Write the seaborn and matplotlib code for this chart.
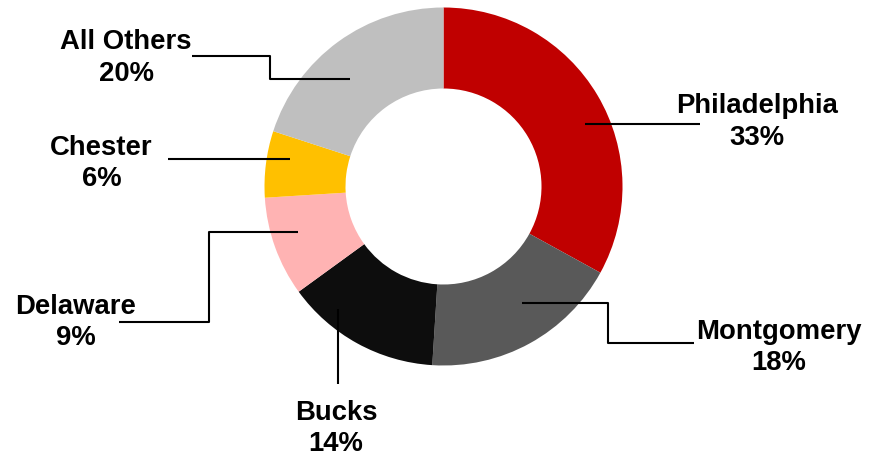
import matplotlib
matplotlib.use("Agg")
import matplotlib.pyplot as plt
import seaborn as sns

# Share of total by county
counties = ["Philadelphia", "Montgomery", "Bucks", "Delaware", "Chester", "All Others"]
shares = [33, 18, 14, 9, 6, 20]
colors = ["#C00000", "#595959", "#0D0D0D", "#FFB3B3", "#FFC000", "#BFBFBF"]

sns.set_theme(style="white")
plt.rcParams["font.family"] = ["Liberation Sans", "DejaVu Sans"]

W, H = 869, 456
fig = plt.figure(figsize=(W / 100, H / 100), dpi=100)
ax = fig.add_axes([0, 0, 1, 1])
ax.set_xlim(0, W)
ax.set_ylim(0, H)
ax.set_aspect("equal")
ax.axis("off")

# donut, pixel layout (y measured from top)
cx, cy = 443.5, 187.5
r_out, r_in = 179, 98
ax.pie(shares, colors=colors, startangle=90, counterclock=False,
       center=(cx, H - cy), radius=r_out, frame=True,
       wedgeprops=dict(width=r_out - r_in, linewidth=0))
ax.set_xlim(0, W)
ax.set_ylim(0, H)
ax.axis("off")

# leader lines and label placement (pixel coords, y from top)
leaders = {
    "Philadelphia": [(585, 125), (700, 125)],
    "Montgomery": [(522, 304), (607.5, 304), (607.5, 344), (694, 344)],
    "Bucks": [(338, 310), (338, 385)],
    "Delaware": [(297.5, 233), (208.5, 233), (208.5, 323), (119, 323)],
    "Chester": [(290, 160), (168, 160)],
    "All Others": [(350, 80), (270, 80), (270, 57), (191.5, 57)],
}
label_pos = {
    "Philadelphia": (757, 113, 145),
    "Montgomery": (779, 339, 370.5),
    "Bucks": (336, 420.5, 451.5),
    "Delaware": (75.5, 313.5, 345),
    "Chester": (101.5, 155, 186.5),
    "All Others": (126, 48.5, 81),
}

for name, share in zip(counties, shares):
    pts = leaders[name]
    ax.plot([p[0] for p in pts], [H - p[1] for p in pts], color="black", lw=1.5,
            solid_capstyle="butt")
    x, y1, y2 = label_pos[name]
    ax.text(x, H - y1, name, ha="center", va="baseline", fontsize=19.8,
            fontweight="bold", color="black")
    ax.text(x, H - y2, f"{share}%", ha="center", va="baseline", fontsize=19.8,
            fontweight="bold", color="black")

fig.savefig("out.png", dpi=100)
